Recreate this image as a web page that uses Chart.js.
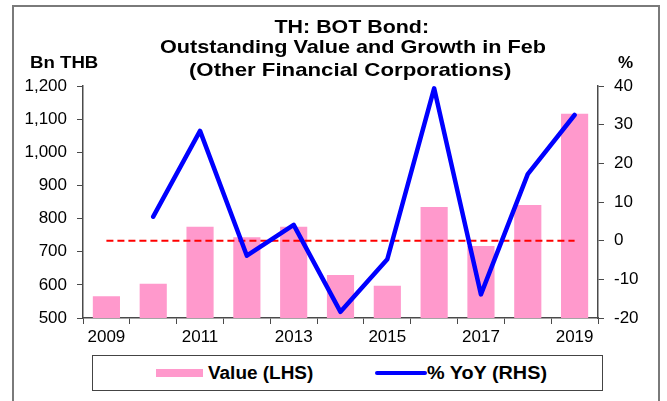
<!DOCTYPE html>
<html>
<head>
<meta charset="utf-8">
<script src="https://cdn.jsdelivr.net/npm/chart.js@4.4.1/dist/chart.umd.min.js"></script>
<style>
  html, body { margin:0; padding:0; background:#fff; }
  #wrap { position:relative; width:667px; height:401px; overflow:hidden; background:#fff; }
  #frame { position:absolute; left:12px; top:5px; width:648px; height:420px; border:2px solid #7a7a7a; box-sizing:border-box; }
  canvas { position:absolute; left:0; top:0; }
  .t { position:absolute; white-space:nowrap; font-family:'Liberation Sans', Arial, sans-serif; font-weight:bold; color:#000; line-height:1; transform-origin:center center; }
  #legend { position:absolute; left:92px; top:355px; width:511px; height:36px; border:1px solid #444; box-sizing:border-box; background:#fff; }
  .sw { position:absolute; }
</style>
</head>
<body>
<div id="wrap">
  <div id="frame"></div>
  <canvas id="c" width="667" height="401"></canvas>
  <div class="t" id="t1" style="font-size:18.5px">TH: BOT Bond:</div>
  <div class="t" id="t2" style="font-size:18.5px">Outstanding Value and Growth in Feb</div>
  <div class="t" id="t3" style="font-size:18.5px">(Other Financial Corporations)</div>
  <div class="t" id="ylab" style="font-size:17px">Bn THB</div>
  <div class="t" id="y1lab" style="font-size:17px">%</div>
  <div id="legend"></div>
  <div class="sw" style="left:156px; top:369px; width:47px; height:8px; background:#FF99CC;"></div>
  <div class="t" id="lg1" style="font-size:17.5px">Value (LHS)</div>
  <div class="sw" style="left:375px; top:371px; width:52px; height:4px; background:#0000FF; border-radius:2px;"></div>
  <div class="t" id="lg2" style="font-size:17.5px">% YoY (RHS)</div>
</div>
<script>
const categories = ['2009','2010','2011','2012','2013','2014','2015','2016','2017','2018','2019'];
const valueLHS = [566, 603, 775, 744, 775, 630, 597, 835, 717, 841, 1116];
const yoyRHS = [null, 6.2, 28.4, -3.9, 4.1, -18.4, -4.8, 39.4, -13.9, 17.2, 32.5];
const zeroLine = [0, 0, 0, 0, 0, 0, 0, 0, 0, 0, 0];
const leftTicks = [500, 600, 700, 800, 900, 1000, 1100, 1200];
const rightTicks = [-20, -10, 0, 10, 20, 30, 40];

const FONT = "'Liberation Sans', Arial, sans-serif";
const tickFont = { family: FONT, size: 17 };
const axisColor = '#4a4a4a';

new Chart(document.getElementById('c'), {
  type: 'bar',
  data: {
    labels: categories,
    datasets: [
      { type:'line', label:'% YoY (RHS)', data: yoyRHS, yAxisID:'y1', borderColor:'#0000FF', borderWidth:4.5,
        pointRadius:0, tension:0, order:0, borderJoinStyle:'round', borderCapStyle:'round', spanGaps:false },
      { type:'line', label:'zero', data: zeroLine, yAxisID:'y1', borderColor:'#FF0000', borderWidth:2,
        borderDash:[7,4], pointRadius:0, tension:0, order:1 },
      { type:'bar', label:'Value (LHS)', data: valueLHS, yAxisID:'y', backgroundColor:'#FF99CC',
        barPercentage:0.58, categoryPercentage:1, order:2 }
    ]
  },
  options: {
    responsive:false, animation:false, devicePixelRatio:1,
    layout: { padding: { top:86, bottom:48, left:0, right:0 } },
    plugins: { legend:{ display:false }, tooltip:{ enabled:false }, title:{ display:false } },
    scales: {
      x: {
        offset:true,
        grid:{ offset:true, drawOnChartArea:false, drawTicks:true, tickLength:6, color:axisColor, lineWidth:1 },
        border:{ display:true, color:axisColor, width:1.5 },
        ticks:{ autoSkip:false, maxRotation:0, minRotation:0, font:tickFont, color:'#000', padding:3,
          callback:(v,i)=> (i % 2 === 0 ? categories[i] : '') },
        afterFit:(s)=>{ s.height = 35; }
      },
      y: {
        position:'left', min: leftTicks[0], max: leftTicks[leftTicks.length-1],
        afterBuildTicks:(s)=>{ s.ticks = leftTicks.map(v=>({value:v})); },
        grid:{ drawOnChartArea:false, drawTicks:true, tickLength:6, color:axisColor },
        border:{ display:true, color:axisColor, width:1.5 },
        ticks:{ font:tickFont, color:'#000', padding:10, callback:(v)=> Number(v).toLocaleString('en-US') },
        afterFit:(s)=>{ s.width = 83; }
      },
      y1: {
        position:'right', min: rightTicks[0], max: rightTicks[rightTicks.length-1],
        afterBuildTicks:(s)=>{ s.ticks = rightTicks.map(v=>({value:v})); },
        grid:{ drawOnChartArea:false, drawTicks:true, tickLength:6, color:axisColor },
        border:{ display:true, color:axisColor, width:1.5 },
        ticks:{ font:tickFont, color:'#000', padding:10 },
        afterFit:(s)=>{ s.width = 69; }
      }
    }
  }
});

function place(id, cx, cy, targetW) {
  const el = document.getElementById(id);
  const w = el.offsetWidth, h = el.offsetHeight;
  const k = targetW ? targetW / w : 1;
  el.style.left = (cx - w/2) + 'px';
  el.style.top = (cy - h/2) + 'px';
  el.style.transform = 'scaleX(' + k + ')';
}
place('t1', 351.5, 27, 155);
place('t2', 353, 47.5, 386);
place('t3', 350, 70, 322);
place('ylab', 64, 62, 68);
place('y1lab', 625.5, 62, 15);
place('lg1', 260.5, 373.5, 105);
place('lg2', 487, 373.5, 120);
</script>
</body>
</html>
